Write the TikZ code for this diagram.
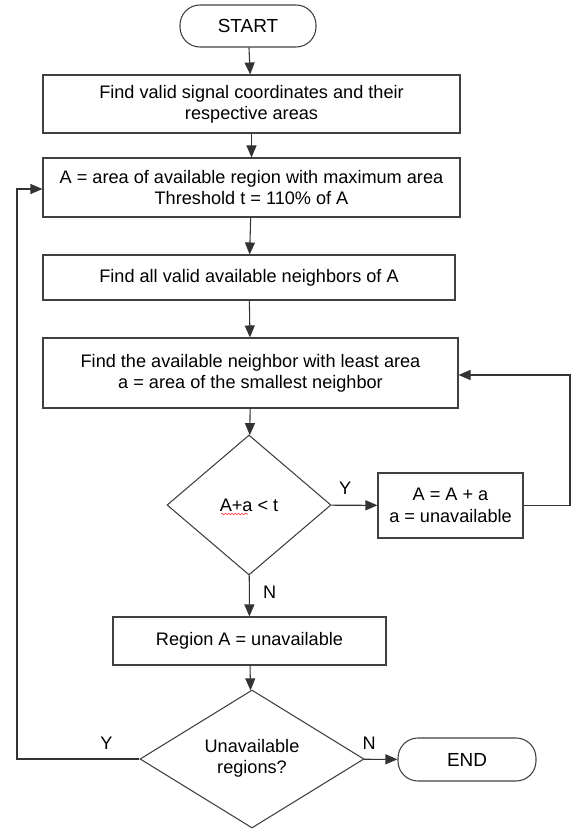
\documentclass[tikz,border=0pt]{standalone}
\usepackage{fontspec}
\setmainfont{Liberation Sans}
\usetikzlibrary{shapes.geometric,arrows.meta,decorations.pathmorphing}
\begin{document}
\begin{tikzpicture}[x=0.75pt,y=-0.75pt,
        font=\fontsize{13.6}{16}\selectfont,
        every node/.style={inner sep=0pt,align=center},
        box/.style={draw=black!75,line width=0.8pt,rectangle},
        term/.style={draw=black!75,line width=0.8pt,rectangle,rounded corners=15pt,
            minimum width=136*0.75pt,minimum height=42*0.75pt},
        decision/.style={draw=black!75,line width=0.8pt,diamond},
        line/.style={draw=black!80,line width=0.8pt},
        arr/.style={line,-{Triangle[length=9pt,width=7.5pt]}}]
        \useasboundingbox (0,0) rectangle (577,830);
        % terminals
        \node[term] (start) at (248,26) {\fontsize{14.2}{16}\selectfont START};
        \node[term,minimum width=138*0.75pt,minimum height=43*0.75pt] (end) at (467,759.5)
            {\fontsize{14.2}{16}\selectfont END};
        % process boxes
        \node[box,minimum width=417*0.75pt,minimum height=58*0.75pt] (find) at (251.5,104)
            {Find valid signal coordinates and their\\respective areas};
        \node[box,minimum width=417*0.75pt,minimum height=59*0.75pt] (maxA) at (251.5,187.5)
            {A = area of available region with maximum area\\Threshold t = 110\% of A};
        \node[box,minimum width=412*0.75pt,minimum height=45*0.75pt] (neigh) at (249,277.5)
            {Find all valid available neighbors of A};
        \node[box,minimum width=415*0.75pt,minimum height=70*0.75pt] (least) at (250.5,373)
            {Find the available neighbor with least area\\a = area of the smallest neighbor};
        \node[box,minimum width=145*0.75pt,minimum height=65*0.75pt] (merge) at (450.5,505.5)
            {A = A + a\\a = unavailable};
        \node[box,minimum width=273*0.75pt,minimum height=48*0.75pt] (mark) at (249.5,641)
            {Region A = unavailable};
        % decisions
        \node[decision,minimum width=164*0.75pt,minimum height=140*0.75pt] (test) at (249,505)
            {A+a < t};
        \node[decision,minimum width=224*0.75pt,minimum height=138*0.75pt] (more) at (252,759)
            {\raisebox{3pt}{\begin{tabular}{@{}c@{}}Unavailable\\regions?\end{tabular}}};
        % spell-check mark under A+a
        \draw[red!85,line width=0.4pt,decorate,
            decoration={snake,amplitude=0.6pt,segment length=2.5pt}]
            (221,514) -- (248,514);
        % main flow
        \draw[arr] (start) -- (find);
        \draw[arr] (find) -- (maxA);
        \draw[arr] (maxA) -- (neigh);
        \draw[arr] (neigh) -- (least);
        \draw[arr] (least) -- (test);
        \draw[arr] (test) -- (merge) node[pos=0.3,above=8pt] {Y};
        \draw[arr] (test) -- (mark) node[pos=0.4,right=10pt] {N};
        \draw[arr] (mark) -- (more);
        \draw[arr] (more) -- (end) node[pos=0.15,above=7pt] {N};
        % loops back
        \coordinate (r1) at (570,505.5);
        \coordinate (r2) at (570,375);
        \draw[arr] (merge.east) -- (r1) -- (r2) -- (least.east |- r2);
        \coordinate (l1) at (17,759);
        \coordinate (l2) at (17,189);
        \draw[arr] (more.west) -- (l1) node[pos=0.27,above=7pt] {Y} -- (l2) -- (maxA.west |- l2);
\end{tikzpicture}
\end{document}
